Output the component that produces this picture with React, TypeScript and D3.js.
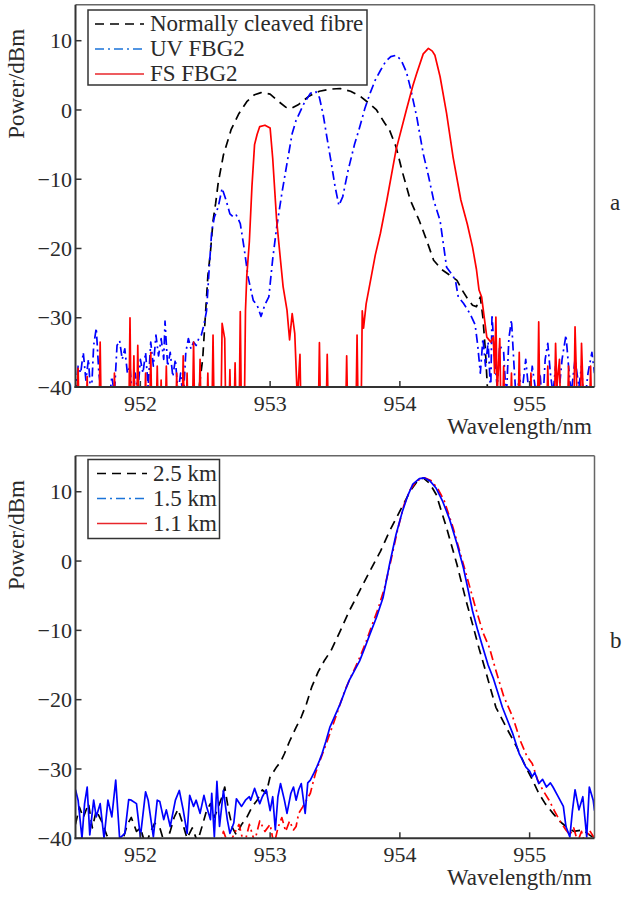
import React from "react";
import * as d3 from "d3";

type Pt = [number, number];

// axes
const xDomain: [number, number] = [951.5, 955.5];
const yDomain: [number, number] = [-40, 15.2];
const xTicks = [952, 953, 954, 955];
const yTicks = [-40, -30, -20, -10, 0, 10];

const legendA = ["Normally cleaved fibre", "UV FBG2", "FS FBG2"];
const legendB = ["2.5 km", "1.5 km", "1.1 km"];

// panel a : normally cleaved fibre (black dashed)
const cleaved: Pt[] = [
  [952.44, -42], [952.48, -36], [952.5, -30], [952.52, -24], [952.54, -20.5], [952.56, -16],
  [952.58, -13.5], [952.6, -10.5], [952.64, -6.5], [952.7, -2.8], [952.76, -0.5], [952.82, 1.2],
  [952.88, 2.2], [952.93, 2.5], [953.0, 2.3], [953.06, 1.3], [953.12, 0.4], [953.16, 0.2],
  [953.22, 0.8], [953.3, 2.0], [953.38, 2.7], [953.46, 3.0], [953.54, 3.1], [953.62, 2.7],
  [953.7, 1.9], [953.76, 1.0], [953.82, 0], [953.88, -1.8], [953.92, -2.9], [953.97, -5.3],
  [954.02, -9], [954.08, -13], [954.15, -16], [954.2, -18.5], [954.26, -21.7], [954.32, -23],
  [954.38, -23.8], [954.44, -24.6], [954.48, -26], [954.52, -27.2], [954.56, -28.2], [954.59, -28.4],
  [954.62, -27], [954.64, -30], [954.66, -35], [954.68, -42],
];

// panel a : UV FBG2 (blue dash-dot)
const uvFbg2: Pt[] = [
  [951.5, -41], [951.52, -37], [951.54, -38], [951.56, -35], [951.58, -39], [951.6, -36],
  [951.62, -42], [951.64, -34], [951.66, -31.5], [951.68, -38], [951.7, -41], [951.72, -43],
  [951.74, -40], [951.76, -42], [951.78, -38.5], [951.8, -41], [951.82, -34], [951.84, -33.3],
  [951.86, -36], [951.88, -34.5], [951.9, -38], [951.92, -37], [951.94, -42], [951.96, -38],
  [951.98, -41], [952.0, -36], [952.02, -38], [952.04, -35], [952.06, -40], [952.08, -33.5],
  [952.1, -37], [952.12, -32.5], [952.14, -35.5], [952.16, -33], [952.18, -36], [952.19, -30.5],
  [952.21, -37], [952.23, -35], [952.25, -38.5], [952.27, -36], [952.29, -41], [952.31, -38],
  [952.33, -42], [952.35, -35], [952.37, -33], [952.39, -34.5], [952.41, -33.5], [952.43, -34],
  [952.45, -33], [952.47, -32.5], [952.49, -31], [952.51, -29], [952.53, -23], [952.55, -17.5],
  [952.57, -15.5], [952.6, -14], [952.63, -11.3], [952.66, -13], [952.69, -15], [952.72, -15.5],
  [952.74, -15.2], [952.77, -16.4], [952.8, -20], [952.83, -24.1], [952.87, -27.5], [952.9, -28.2],
  [952.93, -29.8], [952.96, -28.1], [952.99, -27], [953.02, -21.5], [953.05, -17], [953.09, -12.1],
  [953.13, -7.7], [953.17, -3.4], [953.2, -1.5], [953.26, 0.9], [953.31, 2.4], [953.35, 2.7],
  [953.38, 1.8], [953.41, -0.8], [953.44, -4.2], [953.47, -7.5], [953.5, -11], [953.53, -13.8],
  [953.56, -12.5], [953.6, -8.8], [953.65, -5], [953.69, -2.5], [953.73, 0.2], [953.77, 2.4],
  [953.81, 4.3], [953.85, 5.7], [953.89, 7], [953.93, 7.7], [953.97, 7.9], [954.01, 7.2],
  [954.05, 5.5], [954.08, 3.3], [954.13, -1], [954.18, -6.3], [954.22, -9.5], [954.26, -13],
  [954.31, -16], [954.34, -20], [954.36, -22.7], [954.41, -24], [954.43, -24.8], [954.45, -27],
  [954.49, -27.9], [954.54, -29.4], [954.58, -31], [954.6, -34], [954.62, -38], [954.64, -33],
  [954.66, -37], [954.68, -33.5], [954.7, -41], [954.71, -29.5], [954.73, -36], [954.75, -40],
  [954.77, -34], [954.8, -35], [954.82, -42], [954.84, -33], [954.86, -30.3], [954.88, -37],
  [954.9, -43], [954.92, -38], [954.94, -41], [954.97, -36], [955.0, -42], [955.02, -37],
  [955.05, -41], [955.08, -38], [955.1, -43], [955.12, -36], [955.14, -33.7], [955.16, -38],
  [955.18, -41], [955.2, -37], [955.22, -42], [955.25, -36], [955.28, -32.5], [955.3, -37],
  [955.32, -41], [955.35, -36], [955.38, -40], [955.4, -37], [955.42, -43], [955.45, -38],
  [955.48, -35], [955.5, -38],
];

// panel a : FS FBG2 (red solid)
const fsFbg2: Pt[] = [
  [951.5, -46], [951.52, -37.3], [951.53, -46], [951.58, -46], [951.59, -38.5], [951.6, -46],
  [951.68, -46], [951.69, -33.5], [951.7, -46], [951.79, -46], [951.8, -38], [951.81, -46],
  [951.91, -46], [951.92, -30], [951.93, -46], [951.94, -46], [951.95, -35.5], [951.96, -46],
  [951.97, -46], [951.98, -34], [951.99, -46], [952.03, -46], [952.04, -38], [952.05, -46],
  [952.07, -46], [952.08, -35], [952.09, -46], [952.12, -46], [952.13, -37], [952.14, -46],
  [952.15, -46], [952.16, -39], [952.17, -46], [952.19, -46], [952.2, -37], [952.21, -46],
  [952.27, -46], [952.28, -38], [952.29, -46], [952.32, -46], [952.33, -35.5], [952.34, -46],
  [952.35, -46], [952.36, -38], [952.37, -46], [952.4, -46], [952.41, -33.5], [952.42, -46],
  [952.45, -46], [952.46, -36], [952.47, -46], [952.51, -46], [952.52, -38], [952.53, -46],
  [952.55, -46], [952.56, -32.5], [952.57, -46], [952.62, -46], [952.63, -30.8], [952.65, -33],
  [952.66, -46], [952.68, -46], [952.69, -37.5], [952.7, -46], [952.72, -46], [952.73, -36.5],
  [952.74, -46], [952.76, -46], [952.77, -29.1], [952.78, -46], [952.8, -46], [952.81, -29],
  [952.82, -24], [952.84, -19], [952.86, -11], [952.88, -5], [952.9, -3.5], [952.92, -2.4],
  [952.96, -2.2], [953.0, -2.6], [953.02, -7], [953.05, -15.9], [953.08, -21.7], [953.1, -25.5],
  [953.13, -28.9], [953.15, -33.2], [953.17, -29.4], [953.19, -32.3], [953.21, -42], [953.23, -35.3],
  [953.24, -46], [953.37, -46], [953.38, -33.6], [953.39, -46], [953.43, -46], [953.44, -35.3],
  [953.45, -46], [953.58, -46], [953.59, -35.5], [953.6, -46], [953.66, -46], [953.67, -32.5],
  [953.68, -46], [953.7, -46], [953.71, -29], [953.72, -31.5], [953.74, -28], [953.77, -25],
  [953.81, -21], [953.85, -17.8], [953.9, -13], [953.97, -5.8], [954.05, 0], [954.1, 3.5],
  [954.13, 5.3], [954.18, 8.1], [954.22, 8.9], [954.25, 8.5], [954.27, 7.9], [954.31, 4.8],
  [954.36, -0.5], [954.41, -6.8], [954.47, -13], [954.52, -16.5], [954.56, -19.8], [954.59, -23],
  [954.61, -26], [954.63, -27], [954.65, -29.9], [954.67, -32.8], [954.7, -33.5], [954.72, -32.8],
  [954.73, -38], [954.74, -29.9], [954.75, -41], [954.77, -33], [954.78, -45], [954.79, -45],
  [954.8, -37], [954.81, -45], [954.85, -45], [954.86, -38], [954.87, -45], [954.91, -45],
  [954.92, -35], [954.93, -45], [955.0, -45], [955.01, -38], [955.02, -45], [955.06, -45],
  [955.07, -30.6], [955.08, -45], [955.13, -45], [955.14, -37], [955.15, -45], [955.19, -45],
  [955.2, -33.7], [955.21, -40], [955.23, -36], [955.24, -45], [955.29, -45], [955.3, -37],
  [955.31, -45], [955.34, -45], [955.35, -31.3], [955.36, -38], [955.37, -45], [955.39, -45],
  [955.4, -33.7], [955.42, -45], [955.46, -45], [955.47, -37], [955.48, -45], [955.5, -40],
];

// panel b : 2.5 km (black dashed)
const km25: Pt[] = [
  [951.5, -38], [951.53, -35.5], [951.56, -37], [951.6, -35], [951.63, -38.5], [951.66, -36],
  [951.7, -37.5], [951.74, -39.5], [951.78, -41], [951.82, -42], [951.86, -40.5], [951.9, -38],
  [951.93, -37], [951.97, -39], [952.0, -38.5], [952.04, -41], [952.08, -39], [952.11, -37.8],
  [952.15, -38.5], [952.19, -41], [952.23, -39], [952.26, -37], [952.29, -35.8], [952.32, -37.5],
  [952.36, -40], [952.4, -38.5], [952.44, -40.5], [952.48, -38], [952.51, -36], [952.54, -35],
  [952.57, -37], [952.6, -35.5], [952.63, -34], [952.65, -32.6], [952.68, -36], [952.71, -38.5],
  [952.74, -39.5], [952.78, -38], [952.82, -37], [952.86, -35.5], [952.9, -34.5], [952.94, -33],
  [952.97, -33.5], [953.0, -31.1], [953.02, -30.6], [953.05, -29.7], [953.08, -29], [953.11, -27.8],
  [953.15, -26], [953.2, -24], [953.24, -22.5], [953.28, -20.6], [953.32, -18.2], [953.37, -16],
  [953.42, -14.3], [953.47, -12.9], [953.54, -10.1], [953.61, -7.2], [953.69, -4.3], [953.77, -1.4],
  [953.85, 1.4], [953.92, 4.3], [954.0, 7.2], [954.08, 10.1], [954.13, 11.4], [954.18, 12.0],
  [954.23, 11.2], [954.28, 9.6], [954.36, 4.8], [954.44, -0.5], [954.51, -5.7], [954.56, -9.1],
  [954.61, -12.6], [954.66, -15.8], [954.7, -18.5], [954.74, -21.1], [954.82, -24], [954.9, -26.8],
  [954.97, -29.7], [955.02, -31.5], [955.07, -33.5], [955.12, -35], [955.18, -36.4], [955.23, -37.5],
  [955.28, -38.3], [955.34, -39], [955.41, -38.8], [955.46, -39.5], [955.5, -40],
];

// panel b : blue solid trace
const km15: Pt[] = [
  [951.5, -33], [951.52, -34.5], [951.55, -40], [951.57, -35], [951.59, -32.6], [951.61, -39.5],
  [951.64, -34.5], [951.66, -36.9], [951.69, -35], [951.72, -40], [951.75, -34.5], [951.78, -36.9],
  [951.81, -31.6], [951.84, -40], [951.88, -39.3], [951.91, -34.4], [951.93, -34.5], [951.97, -35],
  [952.0, -39.8], [952.04, -33.3], [952.06, -34.5], [952.1, -39.8], [952.13, -34.5], [952.15, -34.7],
  [952.18, -37.3], [952.2, -35.9], [952.23, -38.3], [952.27, -34.5], [952.3, -33.1], [952.33, -35.9],
  [952.36, -39.3], [952.38, -33.8], [952.41, -35.4], [952.43, -34.5], [952.46, -36.4], [952.49, -33.8],
  [952.51, -35.4], [952.54, -37.3], [952.55, -33.5], [952.57, -39.8], [952.59, -31.8], [952.61, -38.3],
  [952.64, -33.1], [952.67, -37.3], [952.69, -39.3], [952.72, -37.8], [952.74, -34.3], [952.78, -35.4],
  [952.81, -34.5], [952.84, -34], [952.85, -34.5], [952.88, -32.8], [952.92, -35], [952.94, -34],
  [952.97, -33], [953.0, -36], [953.02, -34], [953.04, -38.8], [953.06, -34], [953.08, -32.1],
  [953.11, -34.5], [953.13, -36.4], [953.16, -33.5], [953.18, -32.6], [953.2, -34.5], [953.22, -33],
  [953.24, -32.1], [953.27, -36.4], [953.29, -32], [953.31, -31.6], [953.34, -30.5], [953.36, -29.7],
  [953.38, -28.8], [953.4, -27.8], [953.43, -26], [953.46, -24], [953.5, -22.3], [953.54, -20.6],
  [953.58, -18.6], [953.61, -17.2], [953.65, -15.8], [953.69, -14.4], [953.73, -12.5], [953.77, -10.5],
  [953.82, -8.1], [953.87, -5.3], [953.92, -0.5], [953.97, 3.8], [954.02, 7.2], [954.06, 9.4],
  [954.1, 11.1], [954.15, 11.9], [954.19, 12.0], [954.23, 11.6], [954.28, 10.5], [954.33, 8.6],
  [954.38, 6.2], [954.44, 2.5], [954.49, -1], [954.53, -4.5], [954.56, -7.2], [954.6, -10],
  [954.64, -12.5], [954.68, -15], [954.72, -16.9], [954.76, -19.3], [954.79, -21.1], [954.83, -23],
  [954.87, -24.9], [954.92, -27.8], [954.94, -28.5], [954.97, -29.7], [955.0, -30.3], [955.02, -31.1],
  [955.04, -30.5], [955.07, -32.1], [955.1, -31.5], [955.13, -32.6], [955.16, -32], [955.18, -32.6],
  [955.22, -34], [955.26, -35.4], [955.28, -38.3], [955.31, -39.8], [955.33, -36], [955.35, -33],
  [955.38, -35.9], [955.41, -34], [955.44, -39.8], [955.46, -32.6], [955.49, -34.5], [955.5, -36],
];

// panel b : red dash-dot trace
const km11: Pt[] = [
  [952.6, -42], [952.64, -39], [952.68, -41], [952.72, -39.5], [952.76, -38], [952.8, -41],
  [952.84, -38], [952.88, -40.5], [952.92, -37.5], [952.96, -39], [953.0, -38], [953.03, -41],
  [953.06, -38.5], [953.09, -37], [953.12, -39], [953.15, -37.5], [953.18, -38.8], [953.2, -38.3],
  [953.22, -36.4], [953.25, -35.5], [953.28, -34.5], [953.31, -33.5], [953.33, -32], [953.35, -30.6],
  [953.38, -29], [953.42, -27], [953.46, -24.9], [953.5, -22.8], [953.54, -20.6], [953.58, -18.5],
  [953.62, -16.8], [953.66, -15.2], [953.7, -13.5], [953.74, -11.6], [953.78, -9.5], [953.83, -7],
  [953.88, -4], [953.93, 0], [953.98, 4.3], [954.03, 8], [954.08, 10.3], [954.13, 11.6],
  [954.19, 12.0], [954.24, 11.6], [954.29, 10.5], [954.34, 8.8], [954.41, 4.8], [954.46, 1.5],
  [954.52, -2.5], [954.58, -6.5], [954.64, -10.3], [954.69, -12.5], [954.74, -15.8], [954.8, -19.5],
  [954.87, -22.5], [954.93, -26], [954.98, -28.2], [955.02, -29.2], [955.06, -31.5], [955.1, -33],
  [955.15, -34.5], [955.19, -36], [955.23, -37.4], [955.28, -38.8], [955.31, -39.5], [955.34, -38.5],
  [955.37, -40.5], [955.4, -39], [955.43, -41], [955.46, -38.8], [955.5, -40],
];

const FONT = "'Liberation Serif', 'Times New Roman', serif";
const TEXT = "#2a2a2a";
const DASH = "9,6";
const DASHDOT = "9,4,2,4";
const L = 75.5;
const R = 594.5;

type Series = { data: Pt[]; color: string; dash?: string };
type LegendItem = { label: string; color: string; dash?: string };

const Panel = ({
  id, top, bottom, series, legend, box, letter, letterY,
}: {
  id: string; top: number; bottom: number; series: Series[]; legend: LegendItem[];
  box: { x: number; y: number; w: number; h: number; rowY: number[]; x1: number; x2: number };
  letter: string; letterY: number;
}) => {
  const x = d3.scaleLinear().domain(xDomain).range([L, R]);
  const y = d3.scaleLinear().domain(yDomain).range([bottom, top]);
  const line = d3.line<Pt>().x((d) => x(d[0])).y((d) => y(d[1]));

  return (
    <g>
      <defs>
        <clipPath id={id}>
          <rect x={L} y={top} width={R - L} height={bottom - top} />
        </clipPath>
      </defs>
      <g clipPath={`url(#${id})`}>
        {series.map((s, i) => (
          <path key={i} d={line(s.data) || ""} fill="none" stroke={s.color}
            strokeWidth={1.7} strokeDasharray={s.dash} strokeLinejoin="round" />
        ))}
      </g>
      {/* frame */}
      <line x1={L} x2={R} y1={top} y2={top} stroke="#666" strokeWidth={1.5} />
      <line x1={R} x2={R} y1={top} y2={bottom} stroke="#666" strokeWidth={1.5} />
      <line x1={L} x2={L} y1={top} y2={bottom + 1} stroke="#333" strokeWidth={2} />
      <line x1={L - 1} x2={R} y1={bottom} y2={bottom} stroke="#333" strokeWidth={2} />
      {/* ticks */}
      {xTicks.map((t) => (
        <g key={t}>
          <line x1={x(t)} x2={x(t)} y1={bottom} y2={bottom - 6} stroke="#333" strokeWidth={1.5} />
          <text x={x(t)} y={bottom + 24} textAnchor="middle" fontSize={22} fontFamily={FONT} fill={TEXT}>{t}</text>
        </g>
      ))}
      {yTicks.map((t) => (
        <g key={t}>
          <line x1={L} x2={L + 6} y1={y(t)} y2={y(t)} stroke="#333" strokeWidth={1.5} />
          <text x={72} y={y(t)} dy="0.35em" textAnchor="end" fontSize={22} fontFamily={FONT} fill={TEXT}>
            {t < 0 ? `\u2212${-t}` : t}
          </text>
        </g>
      ))}
      <text x={592} y={bottom + 47} textAnchor="end" fontSize={23} fontFamily={FONT} fill={TEXT}>Wavelength/nm</text>
      <text transform={`translate(24,${(top + bottom) / 2 - 112}) rotate(-90)`} textAnchor="middle"
        fontSize={23} fontFamily={FONT} fill={TEXT}>Power/dBm</text>
      <text x={610} y={letterY} fontSize={23} fontFamily={FONT} fill={TEXT}>{letter}</text>
      {/* legend */}
      <rect x={box.x} y={box.y} width={box.w} height={box.h} fill="#fff" stroke="#333" strokeWidth={1.5} />
      {legend.map((d, i) => (
        <g key={d.label}>
          <line x1={box.x1} x2={box.x2} y1={box.rowY[i]} y2={box.rowY[i]} stroke={d.color}
            strokeWidth={1.7} strokeDasharray={d.dash} />
          <text x={box.x2 + 6} y={box.rowY[i] + 7} fontSize={23} fontFamily={FONT} fill={TEXT}>{d.label}</text>
        </g>
      ))}
    </g>
  );
};

export default function App() {
  return (
    <svg width={622} height={897} style={{ position: "absolute", left: 0, top: 0, background: "#fff" }}>
      <Panel
        id="clipA" top={4.7} bottom={387}
        series={[
          { data: cleaved, color: "#000", dash: DASH },
          { data: uvFbg2, color: "#0000ff", dash: DASHDOT },
          { data: fsFbg2, color: "#ff0000" },
        ]}
        legend={[
          { label: legendA[0], color: "#000", dash: DASH },
          { label: legendA[1], color: "#1a73d9", dash: DASHDOT },
          { label: legendA[2], color: "#e8262b" },
        ]}
        box={{ x: 88, y: 10, w: 279, h: 75, rowY: [24, 49, 74], x1: 95, x2: 144 }}
        letter="a" letterY={210}
      />
      <Panel
        id="clipB" top={455.7} bottom={838.3}
        series={[
          { data: km25, color: "#000", dash: DASH },
          { data: km11, color: "#ff0000", dash: DASHDOT },
          { data: km15, color: "#0000ff" },
        ]}
        legend={[
          { label: legendB[0], color: "#000", dash: DASH },
          { label: legendB[1], color: "#1a73d9", dash: DASHDOT },
          { label: legendB[2], color: "#e8262b" },
        ]}
        box={{ x: 88, y: 459.5, w: 131.5, h: 79, rowY: [473.5, 498.5, 523.5], x1: 97, x2: 147 }}
        letter="b" letterY={648}
      />
    </svg>
  );
}
